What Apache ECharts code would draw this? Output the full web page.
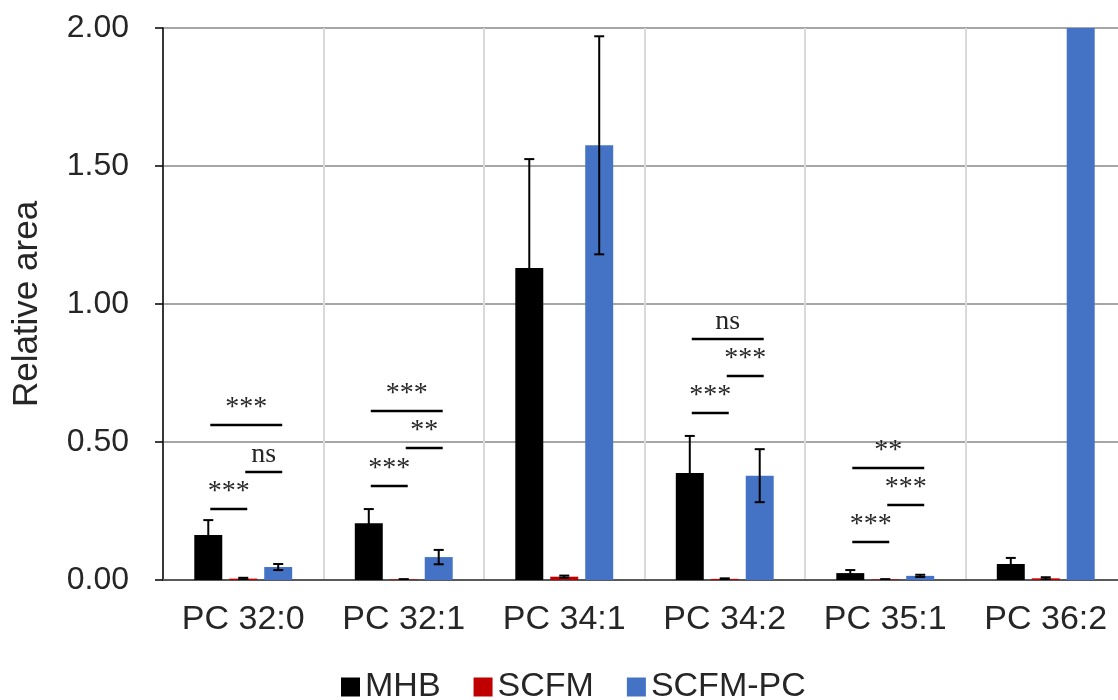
<!DOCTYPE html>
<html>
<head>
<meta charset="utf-8">
<script src="https://cdn.jsdelivr.net/npm/echarts@6/dist/echarts.min.js"></script>
<style>
  html, body { margin: 0; padding: 0; background: #fff; overflow: hidden; }
  /* the figure is cropped on the right, so the chart is a little wider than the window */
  #chart { width: 1126px; height: 700px; }
</style>
</head>
<body>
<div id="chart"></div>
<script>
// categories and bar values (relative area)
const categories = ['PC 32:0', 'PC 32:1', 'PC 34:1', 'PC 34:2', 'PC 35:1', 'PC 36:2'];
const mhb       = [0.163, 0.206, 1.130, 0.388, 0.025, 0.058];
const mhbErr    = [0.054, 0.051, 0.395, 0.134, 0.011, 0.022];
const scfm      = [0.005, 0.002, 0.012, 0.004, 0.002, 0.006];
const scfmErr   = [0.003, 0.001, 0.004, 0.002, 0.001, 0.004];
const scfmPc    = [0.047, 0.083, 1.575, 0.378, 0.015, 2.600];
const scfmPcErr = [0.011, 0.026, 0.395, 0.096, 0.004, 0.300];

// significance brackets: category, from bar, to bar (0 MHB, 1 SCFM, 2 SCFM-PC), height, label
const sigCat  = [0, 0, 0, 1, 1, 1, 3, 3, 3, 4, 4, 4];
const sigFrom = [0, 1, 0, 0, 1, 0, 0, 1, 0, 0, 1, 0];
const sigTo   = [2, 2, 1, 2, 2, 1, 2, 2, 1, 2, 2, 1];
const sigY    = [0.562, 0.391, 0.257, 0.612, 0.478, 0.341, 0.873, 0.739, 0.605, 0.406, 0.272, 0.138];
const sigText = ['***', 'ns', '***', '***', '**', '***', 'ns', '***', '***', '**', '***', '***'];

const yTicks = { min: 0, max: 2, interval: 0.5 };

const CAT_GAP = 0.39, BAR_GAP = 0.25;

// horizontal offset of bar slot i (0..2) from the category centre
function slotOffset(api, i) {
  const catW = api.size([1, 0])[0];
  const bw = catW * (1 - CAT_GAP) / (3 + 2 * BAR_GAP);
  return (i - 1) * bw * (1 + BAR_GAP);
}

function errRender(slot) {
  return function (params, api) {
    const cat = api.value(0), v = api.value(1), e = api.value(2);
    const x = api.coord([cat, v])[0] + slotOffset(api, slot);
    const hi = api.coord([cat, v + e])[1];
    const lo = api.coord([cat, Math.max(v - e, 0)])[1];
    const st = { stroke: '#000', lineWidth: 2 };
    return {
      type: 'group',
      children: [
        { type: 'line', shape: { x1: x, y1: hi, x2: x, y2: lo }, style: st },
        { type: 'line', shape: { x1: x - 5, y1: hi, x2: x + 5, y2: hi }, style: st },
        { type: 'line', shape: { x1: x - 5, y1: lo, x2: x + 5, y2: lo }, style: st }
      ]
    };
  };
}

function errData(vals, errs) {
  return vals.map((v, i) => [i, v, errs[i]]);
}

function sigRender(params, api) {
  const i = params.dataIndex;
  const c = api.coord([api.value(0), api.value(3)]);
  const x1 = c[0] + slotOffset(api, api.value(1)) + 2;
  const x2 = c[0] + slotOffset(api, api.value(2)) + 4;
  return {
    type: 'group',
    children: [
      { type: 'line', shape: { x1: x1, y1: c[1], x2: x2, y2: c[1] },
        style: { stroke: '#000', lineWidth: 2.5 } },
      { type: 'text', x: (x1 + x2) / 2, y: c[1] - 3,
        style: { text: sigText[i], fill: '#262626', align: 'center', verticalAlign: 'bottom',
                 font: '28px "Liberation Serif", "DejaVu Serif", serif' } }
    ]
  };
}

const chart = echarts.init(document.getElementById('chart'));
const font = '"Liberation Sans", Arial, sans-serif';

const option = {
  animation: false,
  legend: {
    data: ['MHB', 'SCFM', 'SCFM-PC'],
    left: 336,
    top: 665,
    icon: 'rect',
    itemWidth: 19,
    itemHeight: 19,
    itemGap: 33,
    textStyle: { fontFamily: font, fontSize: 34, color: '#262626' }
  },
  grid: { left: 163, right: 0, top: 28, bottom: 120 },
  xAxis: {
    type: 'category',
    data: categories,
    axisLine: { lineStyle: { color: '#595959', width: 2 } },
    axisTick: { show: false },
    axisLabel: { fontFamily: font, fontSize: 34, color: '#262626', margin: 23, interval: 0 },
    splitLine: { show: true, interval: 0, lineStyle: { color: '#d9d9d9', width: 2 } }
  },
  yAxis: {
    type: 'value',
    min: yTicks.min,
    max: yTicks.max,
    interval: yTicks.interval,
    name: 'Relative area',
    nameLocation: 'middle',
    nameGap: 118,
    nameTextStyle: { fontFamily: font, fontSize: 35, color: '#262626' },
    axisLine: { show: true, lineStyle: { color: '#000', width: 1.5 } },
    axisTick: { show: true, length: 8, lineStyle: { color: '#000', width: 1.5 } },
    axisLabel: { fontFamily: font, fontSize: 32, color: '#262626', margin: 34,
                 formatter: v => v.toFixed(2) },
    splitLine: { lineStyle: { color: '#a6a6a6', width: 2 } }
  },
  series: [
    { name: 'MHB', type: 'bar', data: mhb, itemStyle: { color: '#000000' },
      barCategoryGap: (CAT_GAP * 100) + '%', barGap: (BAR_GAP * 100) + '%' },
    { name: 'SCFM', type: 'bar', data: scfm, itemStyle: { color: '#c00000' } },
    { name: 'SCFM-PC', type: 'bar', data: scfmPc, itemStyle: { color: '#4472c4' } },
    { type: 'custom', renderItem: errRender(0), data: errData(mhb, mhbErr), clip: true, z: 5 },
    { type: 'custom', renderItem: errRender(1), data: errData(scfm, scfmErr), clip: true, z: 5 },
    { type: 'custom', renderItem: errRender(2), data: errData(scfmPc, scfmPcErr), clip: true, z: 5 },
    { type: 'custom', renderItem: sigRender, z: 6,
      data: sigCat.map((c, i) => [c, sigFrom[i], sigTo[i], sigY[i]]) }
  ]
};

chart.setOption(option);
</script>
</body>
</html>
